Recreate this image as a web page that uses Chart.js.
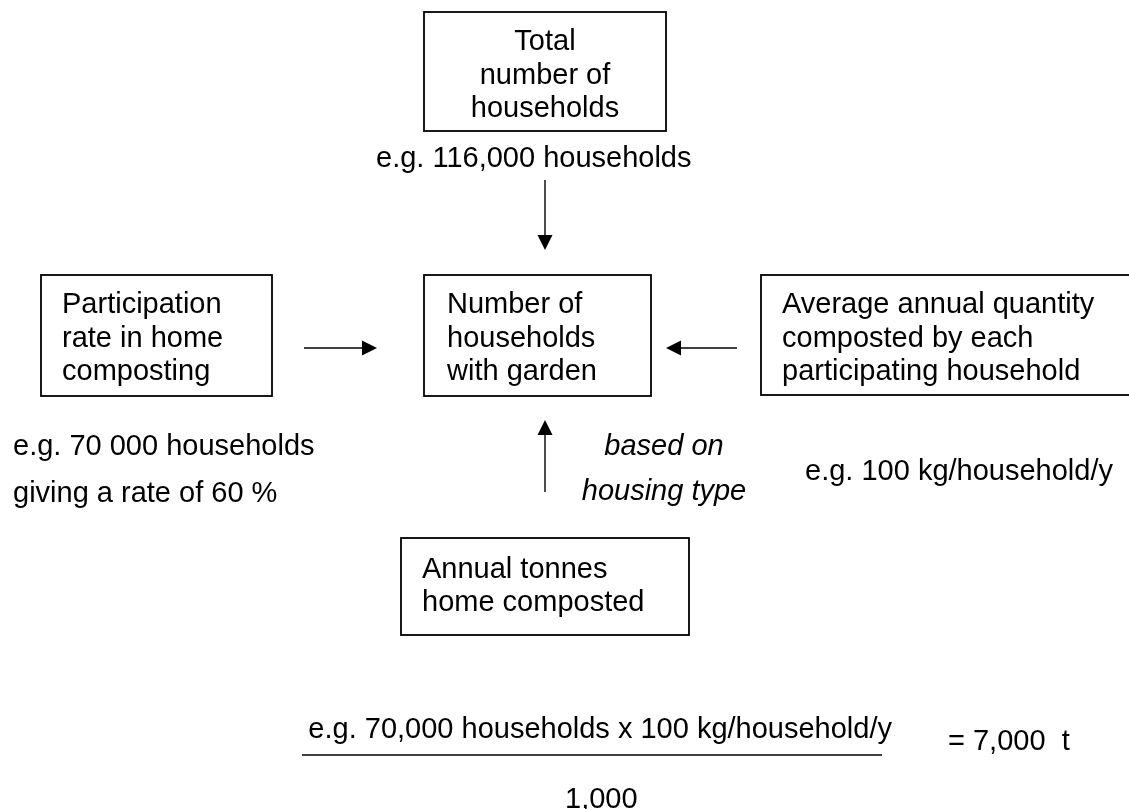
<!DOCTYPE html>
<html>
<head>
<meta charset="utf-8">
<title>Home composting estimate</title>
<script src="https://cdn.jsdelivr.net/npm/chart.js@4"></script>
<style>
  html, body { margin: 0; padding: 0; background: #fff; }
  #diagram { display: block; }
</style>
</head>
<body>
<canvas id="diagram" width="1129" height="809"></canvas>
<script>
// texts of the diagram
const boxTitles = [
  ['Total', 'number of', 'households'],
  ['Participation', 'rate in home', 'composting'],
  ['Number of', 'households', 'with garden'],
  ['Average annual quantity', 'composted by each', 'participating household'],
  ['Annual tonnes', 'home composted']
];
const totalNote = 'e.g. 116,000 households';
const participationNotes = ['e.g. 70 000 households', 'giving a rate of 60 %'];
const basisNotes = ['based on', 'housing type'];
const quantityNote = 'e.g. 100 kg/household/y';
const formulaTop = 'e.g. 70,000 households x 100 kg/household/y';
const formulaBottom = '1,000';
const formulaResult = '= 7,000  t';

// layout (page units = pixels of the reference)
const boxes = [
  { x0: 424, y0: 12, x1: 666, y1: 131, align: 'center', tx: 545, ty: [50, 83.5, 117] },
  { x0: 41, y0: 275, x1: 272, y1: 396, align: 'left', tx: 62, ty: [313, 346.5, 380] },
  { x0: 424, y0: 275, x1: 651, y1: 396, align: 'left', tx: 447, ty: [313, 346.5, 380] },
  { x0: 761, y0: 275, x1: 1135, y1: 395, align: 'left', tx: 782, ty: [313, 346.5, 380] },
  { x0: 401, y0: 538, x1: 689, y1: 635, align: 'left', tx: 422, ty: [578, 611] }
];
const arrows = [
  [545, 180, 545, 250],
  [304, 348, 377, 348],
  [737, 348, 666, 348],
  [545, 492, 545, 420]
];
const FONT = "29px 'Liberation Sans', Arial, sans-serif";
const IFONT = "italic 29px 'Liberation Sans', Arial, sans-serif";

const drawDiagram = {
  id: 'drawDiagram',
  afterDraw(chart) {
    const ctx = chart.ctx;
    const sx = chart.scales.x, sy = chart.scales.y;
    const px = v => sx.getPixelForValue(v);
    const py = v => sy.getPixelForValue(v);

    function text(str, x, y, align, font) {
      ctx.font = font || FONT;
      ctx.textAlign = align || 'left';
      ctx.textBaseline = 'alphabetic';
      ctx.fillText(str, px(x), py(y));
    }

    ctx.save();
    ctx.fillStyle = '#000';
    ctx.strokeStyle = '#000';

    // boxes
    ctx.lineWidth = 1.8;
    boxes.forEach((b, i) => {
      ctx.strokeRect(px(b.x0), py(b.y0), px(b.x1) - px(b.x0), py(b.y1) - py(b.y0));
      boxTitles[i].forEach((line, j) => text(line, b.tx, b.ty[j], b.align));
    });

    // arrows
    ctx.lineWidth = 1.4;
    arrows.forEach(a => {
      const x0 = px(a[0]), y0 = py(a[1]), x1 = px(a[2]), y1 = py(a[3]);
      const ang = Math.atan2(y1 - y0, x1 - x0);
      const len = 15, hw = 7.5;
      const bx = x1 - len * Math.cos(ang), by = y1 - len * Math.sin(ang);
      ctx.beginPath();
      ctx.moveTo(x0, y0);
      ctx.lineTo(bx, by);
      ctx.stroke();
      ctx.beginPath();
      ctx.moveTo(x1, y1);
      ctx.lineTo(bx + hw * Math.sin(ang), by - hw * Math.cos(ang));
      ctx.lineTo(bx - hw * Math.sin(ang), by + hw * Math.cos(ang));
      ctx.closePath();
      ctx.fill();
    });

    // notes
    text(totalNote, 376, 167);
    text(participationNotes[0], 13, 455);
    text(participationNotes[1], 13, 502);
    text(basisNotes[0], 664, 455, 'center', IFONT);
    text(basisNotes[1], 664, 500, 'center', IFONT);
    text(quantityNote, 1113, 480, 'right');

    // formula
    text(formulaTop, 892, 738, 'right');
    ctx.lineWidth = 1.6;
    ctx.beginPath();
    ctx.moveTo(px(302), py(755));
    ctx.lineTo(px(882), py(755));
    ctx.stroke();
    text(formulaBottom, 565, 808);
    text(formulaResult, 948, 750);

    ctx.restore();
  }
};

new Chart(document.getElementById('diagram'), {
  type: 'scatter',
  data: { datasets: [{ data: [], pointRadius: 0 }] },
  options: {
    responsive: false,
    animation: false,
    events: [],
    layout: { padding: 0 },
    plugins: { legend: { display: false }, tooltip: { enabled: false } },
    scales: {
      x: { type: 'linear', min: 0, max: 1129, display: false },
      y: { type: 'linear', min: 0, max: 809, reverse: true, display: false }
    }
  },
  plugins: [drawDiagram]
});
</script>
</body>
</html>
